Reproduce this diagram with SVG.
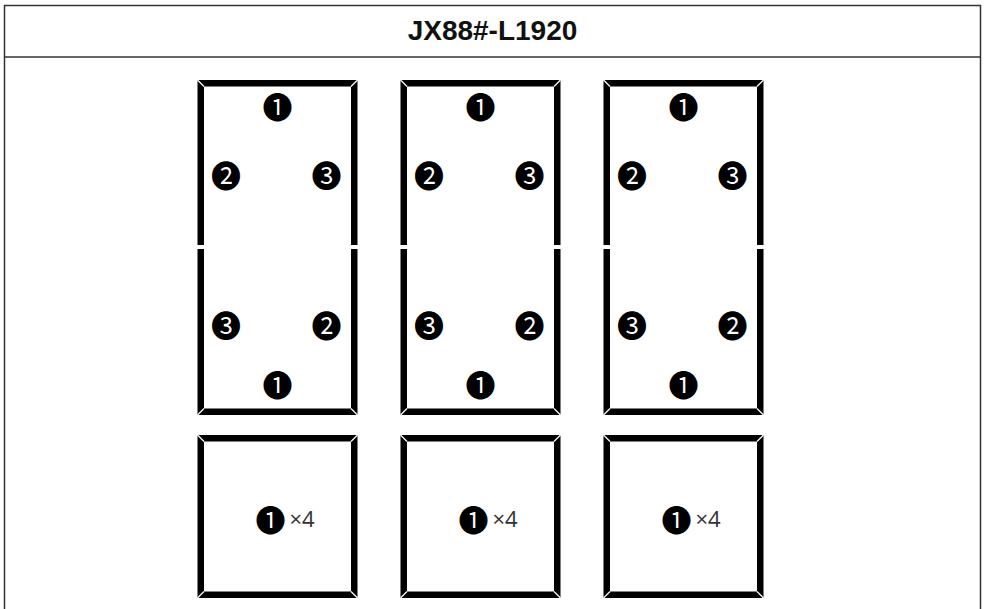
<svg xmlns="http://www.w3.org/2000/svg" width="985" height="609" viewBox="0 0 985 609">
  <style>
    .frame { fill: none; stroke: #333; stroke-width: 1.5; }
    .bar { fill: none; stroke: #000; stroke-width: 6.5; stroke-linejoin: miter; }
    .bevel { stroke: #fff; stroke-width: 1.2; }
    .title { font-family: "Liberation Sans", Arial, sans-serif; font-weight: bold; font-size: 28px; fill: #111; text-anchor: middle; }
    .num { font-family: "Noto Sans CJK JP", "DejaVu Sans", sans-serif; font-size: 30px; fill: #000; text-anchor: middle; dominant-baseline: central; }
    .cnt { font-family: "Open Sans", "Noto Sans", sans-serif; font-size: 22px; fill: #333; }
  </style>
  <defs>
    <g id="tall">
      <path class="bar" d="M3.25,245 V83.25 H156.75 V245"/>
      <path class="bar" d="M3.25,249 V411.75 H156.75 V249"/>
      <line class="bevel" x1="0" y1="80" x2="6.5" y2="86.5"/>
      <line class="bevel" x1="160" y1="80" x2="153.5" y2="86.5"/>
      <line class="bevel" x1="0" y1="415" x2="6.5" y2="408.5"/>
      <line class="bevel" x1="160" y1="415" x2="153.5" y2="408.5"/>
      <text class="num" x="80" y="105">❶</text>
      <text class="num" x="28.5" y="174">❷</text>
      <text class="num" x="129" y="174">❸</text>
      <text class="num" x="28.5" y="324">❸</text>
      <text class="num" x="129" y="324">❷</text>
      <text class="num" x="80" y="383">❶</text>
    </g>
    <g id="square">
      <rect class="bar" x="3.25" y="438.25" width="153.5" height="156.5"/>
      <line class="bevel" x1="0" y1="435" x2="6.5" y2="441.5"/>
      <line class="bevel" x1="160" y1="435" x2="153.5" y2="441.5"/>
      <line class="bevel" x1="0" y1="598" x2="6.5" y2="591.5"/>
      <line class="bevel" x1="160" y1="598" x2="153.5" y2="591.5"/>
      <text class="num" x="73" y="518">❶</text>
      <text class="cnt" x="92" y="527">×4</text>
    </g>
  </defs>
  <rect width="985" height="609" fill="#fff"/>
  <g id="table">
    <path class="frame" d="M4.5,609 V5.5 H980.5 V609"/>
    <line class="frame" x1="4.5" y1="57" x2="980.5" y2="57"/>
  </g>
  <g id="header">
    <text class="title" x="492.5" y="40">JX88#-L1920</text>
  </g>
  <g id="panel-1-tall"><use href="#tall" x="197.5"/></g>
  <g id="panel-2-tall"><use href="#tall" x="400.5"/></g>
  <g id="panel-3-tall"><use href="#tall" x="603.5"/></g>
  <g id="panel-1-square"><use href="#square" x="197.5"/></g>
  <g id="panel-2-square"><use href="#square" x="400.5"/></g>
  <g id="panel-3-square"><use href="#square" x="603.5"/></g>
  <g id="connectors"></g>
</svg>
